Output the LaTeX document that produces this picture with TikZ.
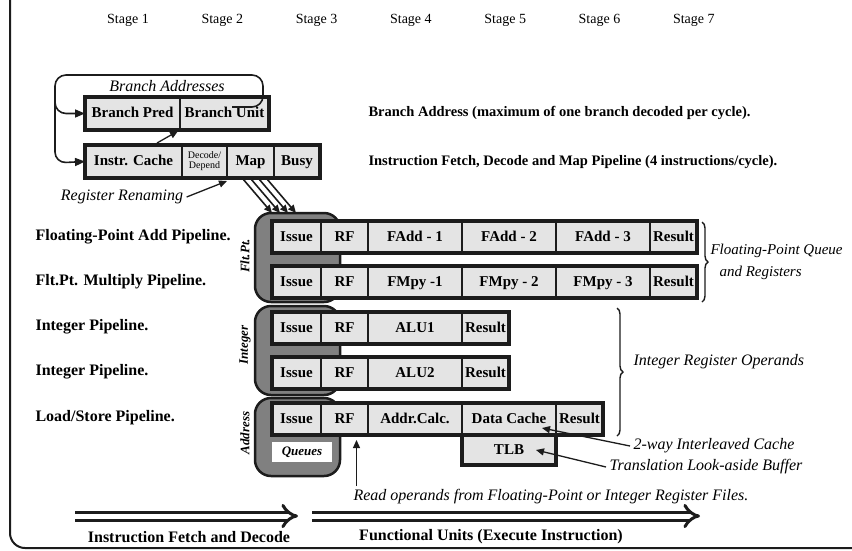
\documentclass[tikz,border=0pt]{standalone}
\usepackage{fontspec}
\setmainfont{Liberation Serif}
\usetikzlibrary{positioning,calc,arrows.meta,decorations.pathreplacing}
\definecolor{cellgray}{HTML}{E4E4E4}
\definecolor{queuegray}{HTML}{808080}
\definecolor{inkblack}{HTML}{1C1C1C}

\begin{document}
\begin{tikzpicture}[
    x=1pt, y=-1pt,
    cell/.style={
      draw=inkblack, line width=2pt, fill=cellgray, outer sep=0pt,
      inner sep=0pt, minimum height=32pt, text height=10.5pt, text depth=2.5pt,
      font=\bfseries\fontsize{15}{17}\selectfont,
    },
    issuecell/.style={cell, minimum width=49pt, anchor=west},
    narrow/.style={cell, minimum width=47pt},
    wide/.style={cell, minimum width=94pt},
    rowframe/.style={draw=inkblack, line width=3.5pt},
    queue/.style={
      draw=inkblack, line width=2.5pt, fill=queuegray,
      rounded corners=16pt, minimum width=85pt, inner sep=0pt,
    },
    sidelbl/.style={rotate=90, font=\bfseries\itshape\fontsize{13}{15}\selectfont},
    plbl/.style={anchor=west, font=\bfseries\fontsize{16}{18}\selectfont},
    note/.style={anchor=west, font=\itshape\fontsize{16}{18}\selectfont},
    stagelbl/.style={font=\fontsize{14}{16}\selectfont},
    ptr/.style={draw=inkblack, line width=1.3pt, -{Triangle[length=8pt,width=7pt]}},
    loopline/.style={draw=inkblack, line width=1.6pt, rounded corners=11pt,
      -{Triangle[length=10pt,width=8pt]}},
    brace/.style={decorate, decoration={brace, amplitude=6pt}, draw=inkblack, line width=1.4pt},
    bigarrow/.style={draw=inkblack, double, double distance=5pt, line width=3pt,
      -{Implies[length=6pt]}},
  ]
  \useasboundingbox (0,0) rectangle (852,550);

  % ===== outer frame =====
  \begin{scope}
    \clip (0,0) rectangle (852,550);
    \draw[inkblack, line width=2pt, rounded corners=15pt] (10,-40) rectangle (900,548);
  \end{scope}

  % ===== stages =====
  \foreach \i in {1,...,7}
    \node[stagelbl] (st\i) at ({128+94.3*(\i-1)},20) {Stage \i};

  % ===== fetch / decode =====
  \node[cell, minimum width=95pt, minimum height=33pt, anchor=west] (bp) at (85,113.5) {Branch Pred};
  \node[cell, minimum width=89pt, minimum height=33pt, right=0pt of bp] (bu) {Branch Unit};
  \draw[rowframe] (bp.north west) rectangle (bu.south east);

  \node[cell, minimum width=97pt, minimum height=33pt, anchor=west] (ic) at (85,161.5) {Instr. Cache};
  \node[cell, minimum width=45pt, minimum height=33pt, right=0pt of ic, align=center,
        text height=, text depth=, font=\fontsize{10}{10}\selectfont] (dd) {Decode/\\Depend};
  \node[cell, minimum width=47pt, minimum height=33pt, right=0pt of dd] (mp) {Map};
  \node[cell, minimum width=46pt, minimum height=33pt, right=0pt of mp] (bz) {Busy};
  \draw[rowframe] (ic.north west) rectangle (bz.south east);

  \node[note, anchor=center] (ba) at (167,86) {Branch Addresses};
  \draw[loopline] ($(bu.north east)+(-37,10)$) -- ($(bu.north east)+(-6,10)$)
    -- ($(bu.north east)+(-6,-22)$) -| (55,163) -- (ic.west);
  \draw[loopline] (55,88) |- (bp.west);
  \draw[ptr] ($(ic.north east)+(-25,-2)$) -- ($(bp.south east)+(-2,1)$);

  \node[note, anchor=center] (rr) at (122,197) {Register Renaming};
  \draw[ptr] (rr.east) -- ($(dd.south east)+(0,3)$);
  \foreach \i in {0,...,3}
    \draw[ptr, line width=1.6pt] ($(mp.south west)+(16+8*\i,1)$) -- ++(29,34);

  \node[plbl, font=\bfseries\fontsize{14.5}{17}\selectfont] (bal) at (365,113) {Branch Address (maximum of one branch decoded per cycle).};
  \node[plbl, font=\bfseries\fontsize{14.5}{17}\selectfont] (ifl) at (365,162) {Instruction Fetch, Decode and Map Pipeline (4 instructions/cycle).};

  % ===== issue queues =====
  \node[queue, minimum height=89pt] (fpq) at (297.5,257.5) {};
  \node[queue, minimum height=89pt] (inq) at (297.5,350.5) {};
  \node[queue, minimum height=78pt] (adq) at (297.5,437) {};
  \node[sidelbl] (fpl) at (245,256) {Flt.Pt.};
  \node[sidelbl] (inl) at (245,345) {Integer};
  \node[sidelbl] (adl) at (245,433) {Address};
  \node[fill=white, minimum width=60pt, minimum height=20pt, inner sep=0pt,
        font=\bfseries\itshape\fontsize{13}{15}\selectfont] (ql) at (302,452) {Queues};

  % ===== floating-point rows =====
  \foreach \r/\y/\a/\b/\c in {fa/237/{FAdd - 1}/{FAdd - 2}/{FAdd - 3},
                              fm/282/{FMpy -1}/{FMpy - 2}/{FMpy - 3}} {
    \node[issuecell] (\r0) at (272,\y) {Issue};
    \node[narrow, right=0pt of \r0] (\r1) {RF};
    \node[wide, right=0pt of \r1] (\r2) {\a};
    \node[wide, right=0pt of \r2] (\r3) {\b};
    \node[wide, right=0pt of \r3] (\r4) {\c};
    \node[narrow, right=0pt of \r4] (\r5) {Result};
    \draw[rowframe] (\r0.north west) rectangle (\r5.south east);
  }

  % ===== integer rows =====
  \foreach \r/\y/\a in {ia/328/ALU1, ib/373/ALU2} {
    \node[issuecell] (\r0) at (272,\y) {Issue};
    \node[narrow, right=0pt of \r0] (\r1) {RF};
    \node[wide, right=0pt of \r1] (\r2) {\a};
    \node[narrow, right=0pt of \r2] (\r3) {Result};
    \draw[rowframe] (\r0.north west) rectangle (\r3.south east);
  }

  % ===== load/store row =====
  \node[issuecell] (ls0) at (272,419) {Issue};
  \node[narrow, right=0pt of ls0] (ls1) {RF};
  \node[wide, right=0pt of ls1] (ls2) {Addr.Calc.};
  \node[wide, right=0pt of ls2] (ls3) {Data Cache};
  \node[narrow, right=0pt of ls3] (ls4) {Result};
  \node[wide, minimum height=30pt, below=0pt of ls3] (tlb) {TLB};
  \draw[rowframe] (ls0.north west) rectangle (ls4.south east);
  \draw[rowframe] (tlb.north west) rectangle (tlb.south east);

  % ===== left labels =====
  \node[plbl] (l1) at (32,237) {Floating-Point Add Pipeline.};
  \node[plbl] (l2) at (32,282) {Flt.Pt. Multiply Pipeline.};
  \node[plbl] (l3) at (32,327) {Integer Pipeline.};
  \node[plbl] (l4) at (32,372) {Integer Pipeline.};
  \node[plbl] (l5) at (32,418) {Load/Store Pipeline.};

  % ===== braces and notes =====
  \draw[brace] (702,222) -- (702,302);
  \node[note, font=\itshape\fontsize{15}{17}\selectfont] (fpn) at (707,251) {Floating-Point Queue};
  \node[note, font=\itshape\fontsize{15}{17}\selectfont] (fpn2) at (716,273) {and Registers};
  \draw[brace] (617,308) -- (617,436);
  \node[note] (irn) at (630,362) {Integer Register Operands};

  \node[note] (wc) at (630,446) {2-way Interleaved Cache};
  \draw[ptr] (wc.west) -- ($(ls3.south east)+(-14,-7)$);
  \node[note] (tn) at (606,467) {Translation Look-aside Buffer};
  \draw[ptr] (tn.west) -- ($(tlb.east)+(-20,0)$);

  \node[note] (rd) at (350,497) {Read operands from Floating-Point or Integer Register Files.};
  \coordinate (rdtip) at ($(ls1.south)+(12,5)$);
  \draw[ptr] (rdtip |- rd.north) -- (rdtip);

  % ===== bottom arrows =====
  \coordinate (fa) at (75,516);
  \coordinate (fb) at (298,516);
  \coordinate (ea) at (312,516);
  \coordinate (eb) at (700,516);
  \draw[bigarrow] (fa) -- (fb);
  \draw[bigarrow] (ea) -- (eb);
  \node[plbl, anchor=center] (fdl) at (189,537) {Instruction Fetch and Decode};
  \node[plbl, anchor=center] (ful) at (491,537) {Functional Units (Execute Instruction)};
\end{tikzpicture}
\end{document}
